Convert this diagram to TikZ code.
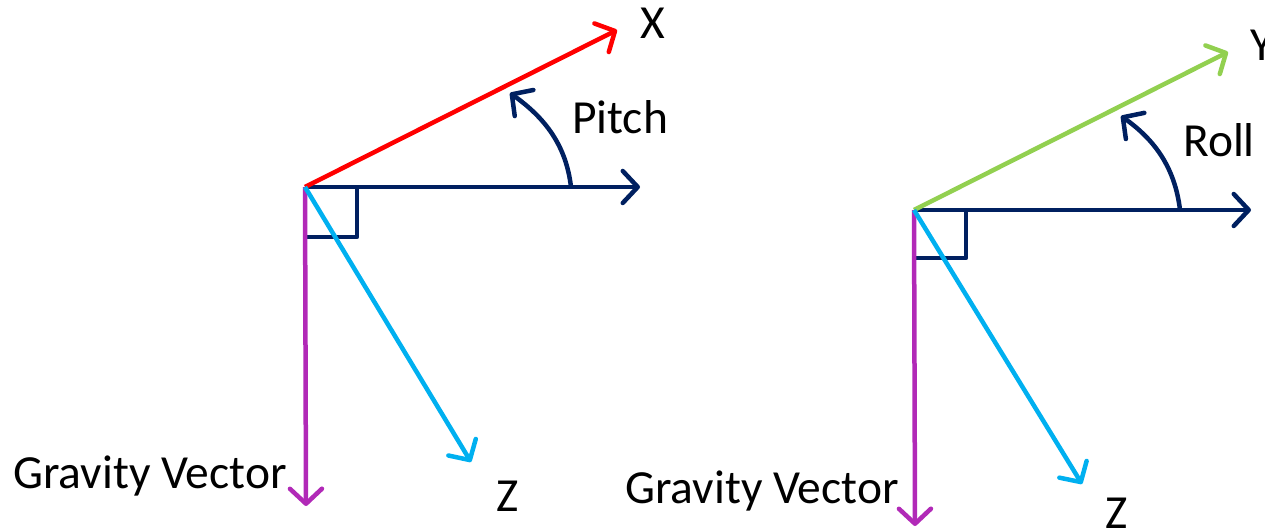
\documentclass[tikz,border=0pt]{standalone}
\usepackage{fontspec}
\setmainfont{Carlito}
\usetikzlibrary{arrows.meta}
\definecolor{navy}{RGB}{0,32,96}
\definecolor{xred}{RGB}{255,0,0}
\definecolor{ygreen}{RGB}{146,208,80}
\definecolor{zcyan}{RGB}{0,176,240}
\definecolor{gmag}{RGB}{177,41,183}
\tikzset{
  vec/.style={line width=4.5pt, -{Straight Barb[length=15pt,width=32pt,line width=4.5pt,round]}},
  sq/.style={line width=4.5pt, navy, line join=round},
  lbl/.style={anchor=base west, inner sep=0pt, font=\fontsize{47.5}{55}\selectfont}
}
\begin{document}
\begin{tikzpicture}[x=1pt,y=-1pt]
\useasboundingbox (0,0) rectangle (1265,529);
% ---- left diagram ----
\coordinate (o1) at (305,187);
\coordinate (x1) at (617,30);
\coordinate (h1) at (640,187);
\coordinate (g1) at (306,506);
\coordinate (z1) at (471,462);
\coordinate (sqa) at (357,187);
\coordinate (sqb) at (357,237);
\coordinate (sqc) at (306,237);
\coordinate (pa) at (571,187);
\coordinate (pb) at (510,93);
\draw[sq] (sqa) -- (sqb) -- (sqc);
\draw[vec, navy] (o1) -- (h1);
\draw[vec, xred] (o1) -- (x1);
\draw[vec, gmag] (o1) -- (g1);
\draw[vec, zcyan] (o1) -- (z1);
\draw[vec, navy] (pa) .. controls (566,145) and (545,118) .. (pb);
\node[lbl] (lx) at (640,39) {X};
\node[lbl] (lp) at (572,134) {Pitch};
\node[lbl] (lz1) at (496,511) {Z};
\node[lbl] (lg1) at (13,488) {Gravity Vector};
% ---- right diagram ----
\coordinate (o2) at (914,210);
\coordinate (y2) at (1228,52);
\coordinate (h2) at (1251,210);
\coordinate (g2) at (915,526);
\coordinate (z2) at (1082,484);
\coordinate (sqd) at (966,210);
\coordinate (sqe) at (966,258);
\coordinate (sqf) at (915,258);
\coordinate (ra) at (1180,210);
\coordinate (rb) at (1121,116);
\draw[sq] (sqd) -- (sqe) -- (sqf);
\draw[vec, navy] (o2) -- (h2);
\draw[vec, ygreen] (o2) -- (y2);
\draw[vec, gmag] (o2) -- (g2);
\draw[vec, zcyan] (o2) -- (z2);
\draw[vec, navy] (ra) .. controls (1175,168) and (1155,140) .. (rb);
\node[lbl] (ly) at (1250,61) {Y};
\node[lbl] (lr) at (1183,157) {Roll};
\node[lbl] (lz2) at (1105,528) {Z};
\node[lbl] (lg2) at (625,503) {Gravity Vector};
\end{tikzpicture}
\end{document}
